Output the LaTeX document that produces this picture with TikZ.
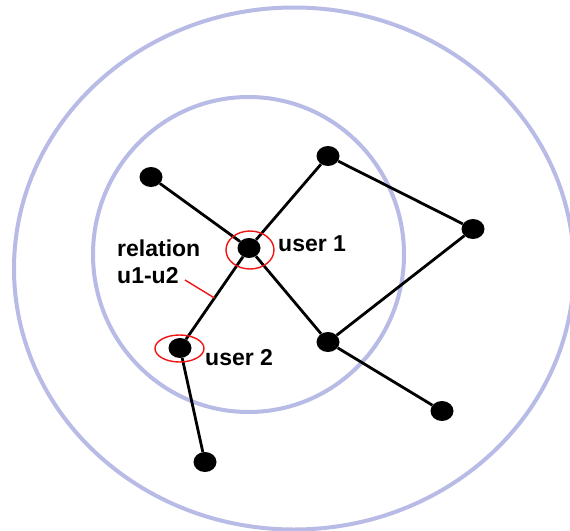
\documentclass[tikz,border=0pt]{standalone}
\usepackage{fontspec}
\setmainfont{Liberation Sans}
\usetikzlibrary{shapes.geometric, positioning}
\definecolor{ringBlue}{HTML}{B8BBE6}
\definecolor{markRed}{HTML}{F01414}
\tikzset{
  ring/.style     = {ringBlue, line width=4pt},
  usernode/.style = {ellipse, fill=black, minimum width=23pt,
                     minimum height=20pt, inner sep=0pt},
  link/.style     = {black, line width=2.8pt},
  hilite/.style   = {markRed, line width=1.4pt},
  lbl/.style      = {font=\fontsize{23}{27}\selectfont\bfseries, inner sep=0pt},
}
\begin{document}
\begin{tikzpicture}[x=1pt, y=-1pt]
  \useasboundingbox[fill=white] (0,0) rectangle (570,530);

  % neighbourhood rings
  \draw[ring] (294,268.5) ellipse [x radius=280, y radius=261];
  \draw[ring] (248.5,254.5) ellipse [x radius=155.5, y radius=157.5];

  % users
  \node[usernode] (user1) at (249,248) {};
  \node[usernode] (user2) at (180,348) {};
  \node[usernode] (peerA) at (151,177) {};
  \node[usernode] (peerB) at (328,156) {};
  \node[usernode] (peerC) at (473,229) {};
  \node[usernode] (peerD) at (328,342) {};
  \node[usernode] (peerE) at (442,411) {};
  \node[usernode] (peerF) at (205,462) {};

  \foreach \a/\b in {peerA/user1, user1/peerB, peerB/peerC, peerC/peerD,
                     user1/peerD, peerD/peerE, user2/peerF}
    \draw[link] (\a) -- (\b);
  \draw[link] (user1) -- coordinate[pos=0.5] (relmid) (user2);

  % highlighted pair
  \draw[hilite] (250,250) ellipse [x radius=24, y radius=19];
  \draw[hilite] (179.5,348.5) ellipse [x radius=24.5, y radius=13.5];
  \coordinate (reltip) at (185,280);
  \draw[hilite] (reltip) -- (relmid);

  \node[lbl, anchor=base west] (lbl1) at (278,251) {user 1};
  \node[lbl, anchor=base west] (lbl2) at (205,365) {user 2};
  \node[lbl, anchor=north west, align=left] (rellbl) at (117,239.5) {relation\\u1-u2};
\end{tikzpicture}
\end{document}
